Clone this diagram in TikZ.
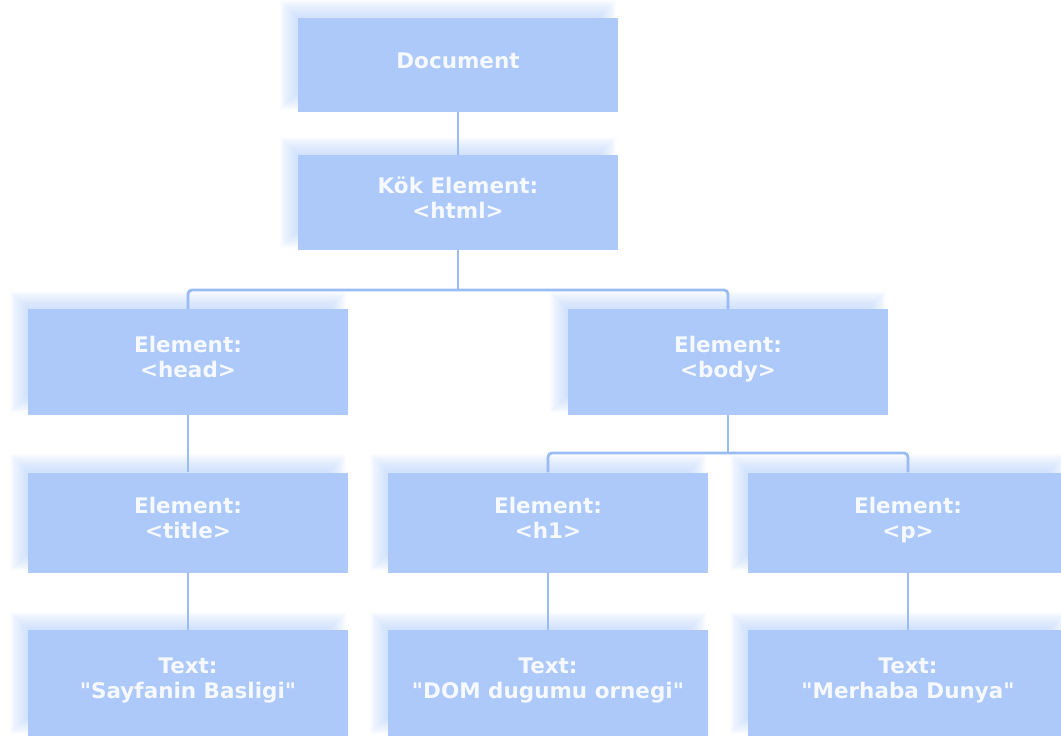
\documentclass[tikz,border=0pt]{standalone}
\usepackage{fontspec}
\setmainfont{DejaVu Sans}[Ligatures=TeXOff]
\usetikzlibrary{calc}
\definecolor{boxblue}{RGB}{172,201,250}
\definecolor{linkblue}{RGB}{152,188,243}
\definecolor{labelwhite}{RGB}{246,249,255}
\pgfdeclarelayer{links}
\pgfdeclarelayer{glow}
\pgfsetlayers{links,glow,main}
% label block: centred lines, sitting a little above the box centre
\newcommand{\boxlabel}[1]{%
  \raisebox{0pt}[\height][\dimexpr\depth+4pt\relax]{%
    \begin{tabular}{@{}c@{}}#1\end{tabular}}}
\tikzset{
  domnode/.style={fill=boxblue, draw=none, text=labelwhite,
    minimum width=320pt, inner sep=0pt,
    font=\fontsize{21.5}{25}\selectfont\bfseries},
  tall/.style={minimum height=106pt},
  short/.style={minimum height=100pt},
  link/.style={draw=linkblue, line width=2.8pt, rounded corners=4pt},
  glowfill/.style={fill=boxblue, opacity=0.045}
}
\begin{document}
\begin{tikzpicture}[x=1pt, y=-1pt]
  \useasboundingbox (0,0) rectangle (1061,736);

  % tree nodes
  \node[domnode, minimum height=94pt]  (doc)   at (458,65)    {\boxlabel{Document}};
  \node[domnode, minimum height=95pt]  (root)  at (458,202.5) {\boxlabel{Kök Element:\\<html>}};
  \node[domnode, tall]  (head)  at (188,362)   {\boxlabel{Element:\\<head>}};
  \node[domnode, tall]  (body)  at (728,362)   {\boxlabel{Element:\\<body>}};
  \node[domnode, short] (title) at (188,522.5) {\boxlabel{Element:\\<title>}};
  \node[domnode, short] (hone)  at (548,522.5) {\boxlabel{Element:\\<h1>}};
  \node[domnode, short] (para)  at (908,522.5) {\boxlabel{Element:\\<p>}};
  \node[domnode, tall]  (ttitle) at (188,683)  {\boxlabel{Text:\\"Sayfanin Basligi"}};
  \node[domnode, tall]  (thone)  at (548,683)  {\boxlabel{Text:\\"DOM dugumu ornegi"}};
  \node[domnode, tall]  (tpara)  at (908,683)  {\boxlabel{Text:\\"Merhaba Dunya"}};

  % soft glow along the upper and left edges of each box
  \begin{pgfonlayer}{glow}
    \foreach \n in {doc,root,head,body,title,hone,para,ttitle,thone,tpara}{
      \foreach \r in {-8,-7,...,8}{
        \fill[glowfill] ($(\n.north west)+({-10-\r},{-10-\r})$)
          rectangle ($(\n.south east)+({-10+\r},{-10+\r})$);
      }
    }
  \end{pgfonlayer}

  % branch points
  \coordinate (fork1) at (458,290);
  \coordinate (fork2) at (728,453);

  \begin{pgfonlayer}{links}
    \draw[link] (doc.south) -- (root.north);
    \draw[link] (root.south) -- (fork1);
    \draw[link] (head.north) |- (fork1) -| (body.north);
    \draw[link] (body.south) -- (fork2);
    \draw[link] (hone.north) |- (fork2) -| (para.north);
    \draw[link] (head.south) -- (title.north);
    \draw[link] (title.south) -- (ttitle.north);
    \draw[link] (hone.south) -- (thone.north);
    \draw[link] (para.south) -- (tpara.north);
  \end{pgfonlayer}
\end{tikzpicture}
\end{document}
